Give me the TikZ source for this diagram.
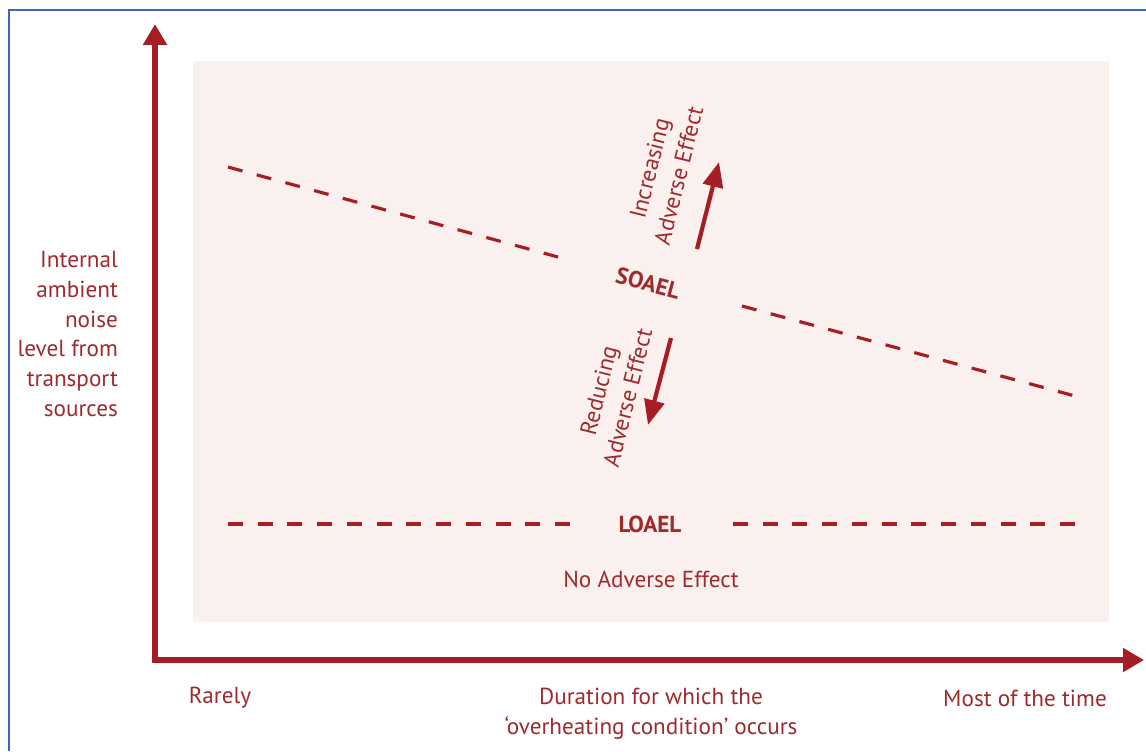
\documentclass[tikz,border=0pt]{standalone}
\usepackage{fontspec}
\setmainfont{PT Sans}
\usetikzlibrary{arrows.meta}

\definecolor{axisred}{HTML}{A61E25}
\definecolor{labelred}{HTML}{9E2A2E}
\definecolor{panelpink}{HTML}{FAF0EE}
\definecolor{frameblue}{HTML}{3C67B6}

\tikzset{
  axis/.style={line width=5pt*0.6, axisred, -{Triangle[length=0.42cm, width=0.46cm]}},
  effectarrow/.style={line width=4pt*0.6, axisred, -{Triangle[length=0.5cm, width=0.4cm]}},
  threshold/.style={line width=3pt*0.6, axisred, dash pattern=on 0.3cm off 0.295cm},
  lbl/.style={text=labelred, font=\fontsize{13.2}{17}\selectfont, inner sep=1pt},
  level/.style={lbl, font=\fontsize{13.2}{17}\selectfont\bfseries}
}

\begin{document}
\begin{tikzpicture}[x=0.02cm, y=-0.02cm]

        \useasboundingbox (0, 0) rectangle (1146, 751);

        % ---------------------------------------------------
        % 1. Frame and shaded panel
        % ---------------------------------------------------

        % Blue frame (top and left edge only)
        \draw[frameblue, line width=1.2pt] (9, 751) -- (9, 10) -- (1146, 10);

        % Light panel behind the chart
        \fill[panelpink] (193, 61) rectangle (1109, 622);


        % ---------------------------------------------------
        % 2. Axes
        % ---------------------------------------------------
        \coordinate (origin) at (155, 660);
        \coordinate (ytop) at (155, 24);
        \coordinate (xend) at (1144, 660);

        \draw[axis] (origin) -- (ytop);
        \draw[axis] ([xshift=-1.5pt]origin) -- (xend);


        % ---------------------------------------------------
        % 3. Threshold lines
        % ---------------------------------------------------

        % SOAEL (sloping, broken round the label)
        \node[level, rotate=-15] (soael) at (648, 283) {SOAEL};
        \coordinate (soaelA) at (228, 167);
        \coordinate (soaelB) at (558, 257);
        \coordinate (soaelC) at (742, 306);
        \coordinate (soaelD) at (1075, 396);
        \draw[threshold] (soaelA) -- (soaelB);
        \draw[threshold] (soaelC) -- (soaelD);

        % LOAEL (flat, broken round the label)
        \node[level] (loael) at (650, 524) {LOAEL};
        \coordinate (loaelA) at (228, 524);
        \coordinate (loaelB) at (570, 524);
        \coordinate (loaelC) at (733, 524);
        \coordinate (loaelD) at (1075, 524);
        \draw[threshold] (loaelA) -- (loaelB);
        \draw[threshold] (loaelC) -- (loaelD);

        \node[lbl] (noeffect) at (651, 579) {No Adverse Effect};


        % ---------------------------------------------------
        % 4. Effect arrows
        % ---------------------------------------------------
        \coordinate (upfrom) at (697, 249);
        \coordinate (upto) at (719, 162);
        \draw[effectarrow] (upfrom) -- (upto);
        \node[lbl, rotate=76, align=center] (increasing) at (664, 172) {Increasing\\Adverse Effect};

        \coordinate (downfrom) at (671, 338);
        \coordinate (downto) at (648, 425);
        \draw[effectarrow] (downfrom) -- (downto);
        \node[lbl, rotate=76, align=center] (reducing) at (613, 394) {Reducing\\Adverse Effect};


        % ---------------------------------------------------
        % 5. Axis labels
        % ---------------------------------------------------
        \node[lbl, anchor=east, align=right] (ylabel) at (120, 334)
            {Internal\\ambient\\noise\\level from\\transport\\sources};

        \node[lbl] (rarely) at (220, 698) {Rarely};
        \node[lbl, align=center] (xlabel) at (651, 714)
            {Duration for which the\\`overheating condition' occurs};
        \node[lbl] (mosttime) at (1025, 698) {Most of the time};

\end{tikzpicture}
\end{document}
